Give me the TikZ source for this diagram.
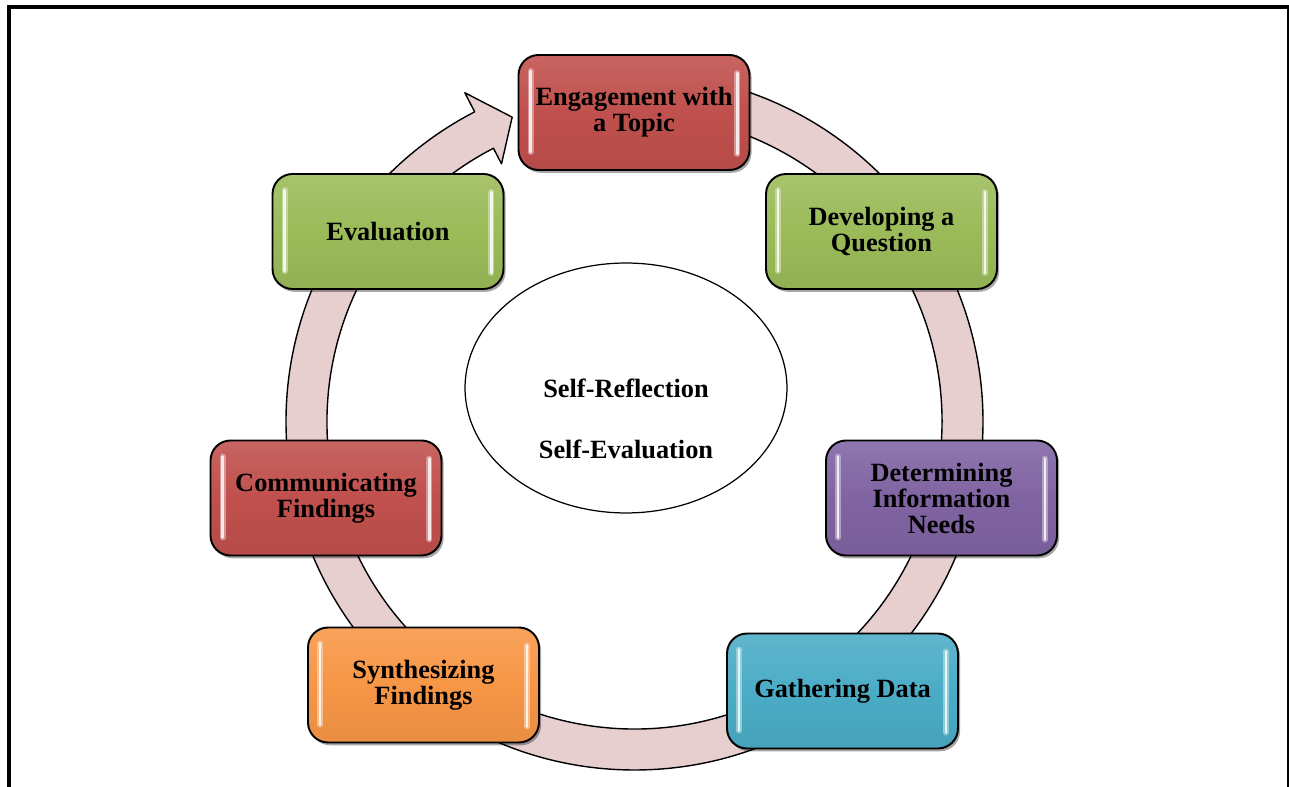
\documentclass[tikz,border=0pt]{standalone}
\usepackage{fontspec}
\setmainfont{Liberation Serif}
\usepackage{tikz}
\usetikzlibrary{shadows,shapes.geometric}
\usepackage{xcolor}
\definecolor{stagered}{HTML}{C0504D}
\definecolor{stagegreen}{HTML}{9BBB59}
\definecolor{stagepurple}{HTML}{8064A2}
\definecolor{stageteal}{HTML}{4BACC6}
\definecolor{stageorange}{HTML}{F79646}
\definecolor{ringpink}{RGB}{231,207,208}
% two glossy strips along the short sides of a stage box
\newcommand{\glint}[2]{%
  \draw[glow=#2] ([xshift=0.26cm,yshift=-0.34cm]#1.north west) -- ([xshift=0.26cm,yshift=0.38cm]#1.south west);
  \draw[glint=#2] ([xshift=0.26cm,yshift=-0.34cm]#1.north west) -- ([xshift=0.26cm,yshift=0.38cm]#1.south west);
  \draw[glow=#2] ([xshift=-0.26cm,yshift=-0.38cm]#1.north east) -- ([xshift=-0.26cm,yshift=0.34cm]#1.south east);
  \draw[glint=#2] ([xshift=-0.26cm,yshift=-0.38cm]#1.north east) -- ([xshift=-0.26cm,yshift=0.34cm]#1.south east);
}

\begin{document}
\begin{tikzpicture}[
  x=0.02cm, y=0.02cm,
  frame/.style={draw=black, line width=2.3pt},
  ring/.style={fill=ringpink, draw=black, line width=0.8pt, line join=round},
  core/.style={ellipse, draw=black, line width=0.7pt, fill=white,
               minimum width=6.44cm, minimum height=5.0cm, inner sep=0pt},
  label/.style={font=\bfseries\fontsize{15}{14.8}\selectfont, text=black},
  stage/.style={rounded corners=0.4cm, draw=black, line width=1.1pt,
                top color=#1!88!white, bottom color=#1!94!black, middle color=#1,
                minimum width=4.62cm, minimum height=2.3cm, align=center,
                inner sep=2pt, font=\bfseries\fontsize{15}{14.8}\selectfont,
                drop shadow={shadow xshift=1.2pt, shadow yshift=-1.6pt,
                             opacity=0.35, fill=black}},
  glint/.style={draw=#1!12!white, line width=1.5pt, line cap=round},
  glow/.style={draw=#1!45!white, line width=3.4pt, line cap=round, opacity=0.7}
]
  \useasboundingbox (0,0) rectangle (1289,787);
  \clip (0,0) rectangle (1289,787);

  % outer frame, open at the bottom
  \draw[frame] (9,-10) -- (9,780) -- (1289.5,780) -- (1289.5,-10);

  % cycle band with the arrow head closing the loop
  \begin{scope}[shift={(634.5,365.5)}]
    \filldraw[ring] (90:348.5) arc[start angle=90, end angle=-242.7, radius=348.5]
      -- (-242.7:370) -- (-248.1:328) -- (-242.7:290) -- (-242.7:307.5)
      arc[start angle=-242.7, end angle=90, radius=307.5] -- cycle;
  \end{scope}

  % centre
  \node[core] (self) at (626,399) {};
  \node[label] (reflect) at (self.center) {Self-Reflection};
  \node[label] (selfeval) at ([yshift=-1.22cm]self.center) {Self-Evaluation};

  % stages, clockwise from the top
  \node[stage=stagered] (engage) at (634,674.5) {Engagement with\\a Topic};
  \node[stage=stagegreen] (question) at (881.5,555.5) {Developing a\\Question};
  \node[stage=stagepurple] (needs) at (941.5,289) {Determining\\Information\\Needs};
  \node[stage=stageteal] (gather) at (842.5,96) {Gathering Data};
  \node[stage=stageorange] (synth) at (423.5,102) {Synthesizing\\Findings};
  \node[stage=stagered] (comm) at (326,289) {Communicating\\Findings};
  \node[stage=stagegreen] (evaluate) at (388,555.5) {Evaluation};

  \glint{engage}{stagered}
  \glint{question}{stagegreen}
  \glint{needs}{stagepurple}
  \glint{gather}{stageteal}
  \glint{synth}{stageorange}
  \glint{comm}{stagered}
  \glint{evaluate}{stagegreen}
\end{tikzpicture}
\end{document}
